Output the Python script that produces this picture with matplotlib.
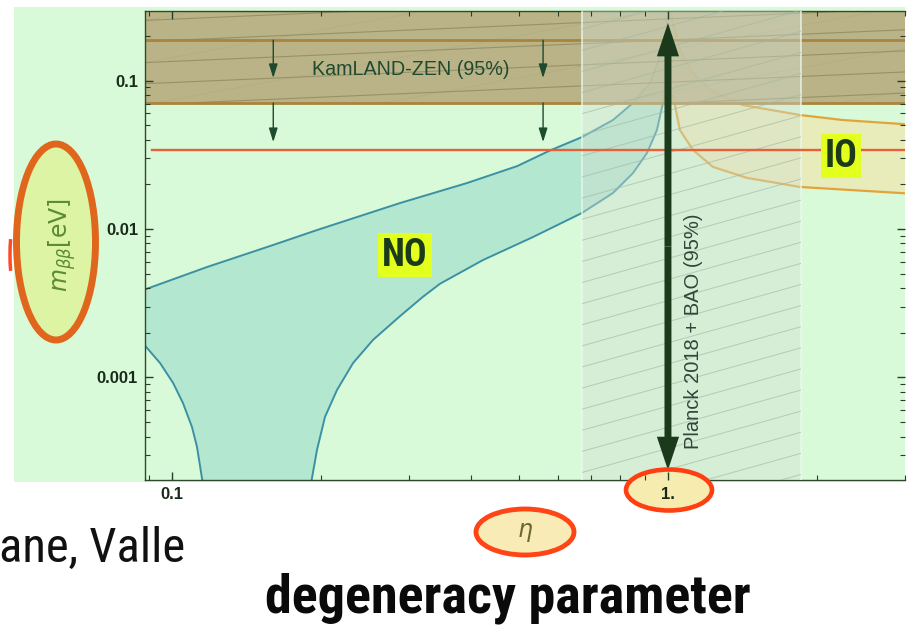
import numpy as np
import matplotlib
matplotlib.use("Agg")
import matplotlib.pyplot as plt
from matplotlib import font_manager
from matplotlib.patches import Rectangle, Ellipse, FancyArrowPatch, Arc
from matplotlib.ticker import FixedLocator, FixedFormatter, LogLocator, NullFormatter

# ---------------- data ----------------
no_upper_eta = [0.0886, 0.1177, 0.1598, 0.1960, 0.2882, 0.3933, 0.4961, 0.5782, 0.6707,
                0.7746, 0.850, 0.920, 0.9635, 0.9954, 0.998]
no_upper_m = [0.00394, 0.00555, 0.00780, 0.00984, 0.01496, 0.0204, 0.0265, 0.0338, 0.0416,
              0.0542, 0.0706, 0.0962, 0.1439, 0.229, 0.294]

no_lower_left_eta = [0.0886, 0.0946, 0.1005, 0.1052, 0.1097, 0.1123, 0.1149, 0.1155]
no_lower_left_m = [0.00161, 0.00125, 0.000918, 0.000673, 0.000464, 0.000340, 0.000210, 0.000189]

no_lower_right_eta = [0.1906, 0.1915, 0.1960, 0.2034, 0.2151, 0.2317, 0.2542, 0.2882, 0.3207,
                      0.347, 0.4236, 0.5343, 0.6707, 0.7746, 0.850, 0.9072, 0.950, 0.977, 0.999]
no_lower_right_m = [0.000189, 0.000210, 0.000325, 0.000542, 0.000824, 0.00125, 0.00179, 0.00259,
                    0.00350, 0.00428, 0.00618, 0.00883, 0.01282, 0.01748, 0.0238, 0.0325,
                    0.0464, 0.0706, 0.1177]

io_upper_eta = [1.014, 1.023, 1.057, 1.123, 1.215, 1.416, 1.845, 2.254, 3.006]
io_upper_m = [0.294, 0.244, 0.1605, 0.1123, 0.0863, 0.0684, 0.0586, 0.0542, 0.0508]

io_lower_eta = [1.023, 1.057, 1.123, 1.232, 1.443, 1.845, 3.006]
io_lower_m = [0.0798, 0.0464, 0.0341, 0.0262, 0.0221, 0.0192, 0.0174]

kamland_limits = [0.0706, 0.187]          # m_bb band edges
kamland_arrow_eta = [0.160, 0.56]
kamland_arrow_from = [0.187, 0.0706]
kamland_arrow_to = [0.104, 0.0385]

sensitivity_m = 0.034                      # red horizontal line
sensitivity_eta_start = 0.0911

planck_band = [0.671, 1.854]               # eta range
planck_arrow_eta = 1.0
planck_arrow_m = [0.000238, 0.244]

x_ticks = [0.1, 1.0]
x_tick_labels = ["0.1", "1."]
y_ticks = [0.001, 0.01, 0.1]
y_tick_labels = ["0.001", "0.01", "0.1"]

XLIM = (0.0882, 3.006)
YLIM = (2.04e-4, 0.294)

# ---------------- condensed face for the slide text ----------------
avail = set(f.name for f in font_manager.fontManager.ttflist)
narrow_family = "DejaVu Sans"
for pref in ["Roboto Condensed", "Liberation Sans Narrow", "Barlow Condensed",
             "Asap Condensed", "Archivo Narrow"]:
    if pref in avail:
        narrow_family = pref
        break
narrow = [narrow_family, "DejaVu Sans"]
sans = ["Liberation Sans", "DejaVu Sans"]

# ---------------- figure ----------------
W, H = 910, 628
fig = plt.figure(figsize=(W / 100, H / 100), dpi=100)
fig.patch.set_facecolor("white")


def fx(x):
    return x / W


def fy(y):
    return 1 - y / H


fig.patches.append(Rectangle((fx(14), fy(482)), (905 - 14) / W, (482 - 7) / H,
                             transform=fig.transFigure, facecolor="#d9fad9",
                             edgecolor="none", zorder=-5))
fig.patches.append(Arc((fx(60), fy(255)), 100 / W, 200 / H, theta1=155, theta2=205,
                       transform=fig.transFigure, color="#ff4a26", lw=2.5, zorder=-4))

ax = fig.add_axes([fx(145), fy(480), (905 - 145) / W, (480 - 11) / H])
ax.set_facecolor("none")
ax.set_xscale("log")
ax.set_yscale("log")
ax.set_xlim(*XLIM)
ax.set_ylim(*YLIM)

# ---- NO band ----
grid = np.geomspace(no_upper_eta[0], no_upper_eta[-1], 800)
lg = np.log10(grid)
up = 10 ** np.interp(lg, np.log10(no_upper_eta), np.log10(no_upper_m))
low = np.full_like(grid, 1e-6)
mL = grid <= no_lower_left_eta[-1]
low[mL] = 10 ** np.interp(lg[mL], np.log10(no_lower_left_eta), np.log10(no_lower_left_m))
mR = grid >= no_lower_right_eta[0]
low[mR] = 10 ** np.interp(lg[mR], np.log10(no_lower_right_eta), np.log10(no_lower_right_m))
ax.fill_between(grid, low, up, facecolor="#b3e7cf", edgecolor="none", zorder=1.4)
for ex, my in [(no_upper_eta, no_upper_m), (no_lower_left_eta, no_lower_left_m),
               (no_lower_right_eta, no_lower_right_m)]:
    ax.plot(ex, my, color="#3b91a2", lw=1.4, zorder=1.5, solid_joinstyle="round")

# ---- IO band ----
gi = np.geomspace(io_lower_eta[0], io_lower_eta[-1], 400)
lgi = np.log10(gi)
iu = 10 ** np.interp(lgi, np.log10(io_upper_eta), np.log10(io_upper_m))
il = 10 ** np.interp(lgi, np.log10(io_lower_eta), np.log10(io_lower_m))
ax.fill_between(gi, il, iu, facecolor="#ebeab5", edgecolor="none", alpha=0.85, zorder=1.4)
ax.plot(io_upper_eta, io_upper_m, color="#e2a43a", lw=1.6, zorder=1.5)
ax.plot(io_lower_eta, io_lower_m, color="#e2a43a", lw=1.6, zorder=1.5)

# ---- KamLAND-Zen band ----
kam = ax.axhspan(kamland_limits[0], YLIM[1], facecolor="#b7ac7e", edgecolor="none",
                 alpha=0.9, zorder=2)
for c in np.arange(-1.0, 1.2, 0.045):
    ln, = ax.plot([0, 1], [c, c + 0.070], transform=ax.transAxes, color="#8a8259",
                  lw=0.8, alpha=0.7, zorder=2.1)
    ln.set_clip_path(kam)
for c in np.arange(-1.0, 1.2, 0.09):
    ln, = ax.plot([0, 1], [c, c + 0.30], transform=ax.transAxes, color="#a39b75",
                  lw=0.5, alpha=0.3, zorder=2.1)
    ln.set_clip_path(kam)
for lim in kamland_limits:
    ax.axhline(lim, color="#a8843e", lw=2.0, zorder=2.2)
ax.text(0.303, 0.1195, "KamLAND-ZEN (95%)", ha="center", va="center", fontsize=14.2,
        family=sans, color="#1f4a30", zorder=4)
for e in kamland_arrow_eta:
    for a, b in zip(kamland_arrow_from, kamland_arrow_to):
        ax.annotate("", xy=(e, b), xytext=(e, a),
                    arrowprops=dict(arrowstyle="-|>,head_length=0.7,head_width=0.22",
                                    mutation_scale=12, color="#1e4a2e", lw=1.0,
                                    shrinkA=0, shrinkB=0), zorder=4)

# ---- Planck band ----
pb = ax.axvspan(planck_band[0], planck_band[1], facecolor=(0.82, 0.87, 0.82), alpha=0.42,
                edgecolor="none", zorder=3)
for xb in planck_band:
    ax.axvline(xb, color="#eef9ee", lw=1.2, alpha=0.8, zorder=3.05)
for c in np.arange(-2.0, 1.2, 0.045):
    ln, = ax.plot([0, 1], [c, c + 0.454], transform=ax.transAxes, color="#a2b8a2",
                  lw=0.7, alpha=0.65, zorder=3.1)
    ln.set_clip_path(pb)

# ---- red line ----
ax.plot([sensitivity_eta_start, XLIM[1]], [sensitivity_m, sensitivity_m], color="#e8603a",
        lw=1.7, zorder=4)

# ---- big double arrow ----
mid = 10 ** np.mean(np.log10(planck_arrow_m))
for end in planck_arrow_m:
    ax.add_patch(FancyArrowPatch((planck_arrow_eta, mid), (planck_arrow_eta, end),
                                 arrowstyle="simple,head_length=24,head_width=16,tail_width=5",
                                 mutation_scale=1, color="#1b3a1b", lw=0,
                                 shrinkA=0, shrinkB=0, zorder=5))
ax.text(1.128, 0.00205, "Planck 2018 + BAO (95%)", rotation=90, ha="center", va="center",
        fontsize=14.5, family=sans, color="#34443a", zorder=5)

# ---- NO / IO labels ----
for txt, ex, my in [("NO", 0.295, 0.00668), ("IO", 2.233, 0.031)]:
    ax.text(ex, my, txt, ha="center", va="center", fontsize=27, fontweight="bold",
            family=narrow, color="#1a3a1a", zorder=6,
            bbox=dict(boxstyle="square,pad=0.1", facecolor="#e2ff1e", edgecolor="none"))

# ---- axes styling ----
ax.xaxis.set_major_locator(FixedLocator(x_ticks))
ax.xaxis.set_major_formatter(FixedFormatter(x_tick_labels))
ax.yaxis.set_major_locator(FixedLocator(y_ticks))
ax.yaxis.set_major_formatter(FixedFormatter(y_tick_labels))
for a in (ax.xaxis, ax.yaxis):
    a.set_minor_locator(LogLocator(base=10, subs=np.arange(2, 10), numticks=20))
    a.set_minor_formatter(NullFormatter())
ax.tick_params(which="both", direction="in", top=True, right=True, color="#2a3d2a")
ax.tick_params(which="major", length=6, width=1.0)
ax.tick_params(which="minor", length=3.5, width=0.8)
ax.tick_params(axis="both", pad=5)
for lab in ax.get_xticklabels() + ax.get_yticklabels():
    lab.set_fontweight("bold")
    lab.set_fontsize(12)
    lab.set_color("#1a2a1a")
    lab.set_family(sans)
for s in ["left", "bottom", "top"]:
    ax.spines[s].set_color("#2d4a2d")
    ax.spines[s].set_linewidth(1.0)
ax.spines["right"].set_visible(False)

ax.set_xlabel(r"$\eta$", fontsize=17, color="#6a6a30")
ax.xaxis.set_label_coords((525 - 145) / 760, -(532 - 480) / 469)
ax.xaxis.label.set_va("center")
ax.set_ylabel(r"$m_{\beta\beta}$[eV]", fontsize=17, color="#5c8a36")
ax.yaxis.set_label_coords((62 - 145) / 760, (480 - 245) / 469)
ax.yaxis.label.set_va("center")
ax.xaxis.set_zorder(8)
ax.yaxis.set_zorder(8)

for cx, cy, w, h, fc, ec, lw in [
        (669, 490, 86, 41, "#f7ecb0", "#ff3f12", 3.3),
        (525, 532, 98, 46, "#f8ebb5", "#ff4515", 3.5),
        (56, 242, 79, 196, "#dcf4a4", "#e0661e", 5.0)]:
    ax.add_patch(Ellipse((fx(cx), fy(cy)), w / W, h / H, transform=fig.transFigure,
                         facecolor=fc, edgecolor=ec, lw=lw, clip_on=False, zorder=7))

# slide text
fig.text(fx(185), fy(562), "ane, Valle", ha="right", va="baseline", fontsize=35,
         family=narrow, color="#111111")
fig.text(fx(508), fy(612), "degeneracy parameter", ha="center", va="baseline", fontsize=39,
         fontweight="bold", family=narrow, color="#0a0a0a")

fig.savefig("out.png", dpi=100, facecolor="white")
